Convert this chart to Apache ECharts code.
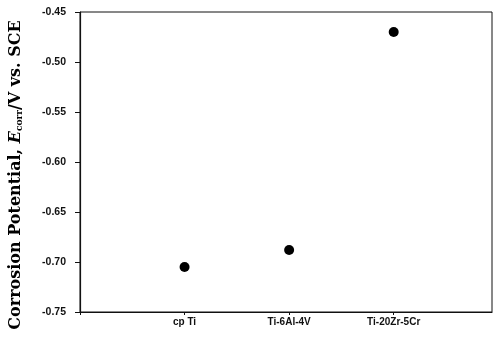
<!DOCTYPE html>
<html>
<head>
<meta charset="utf-8">
<script src="https://cdn.jsdelivr.net/npm/echarts@6/dist/echarts.min.js"></script>
<style>
  html, body { margin: 0; padding: 0; background: #fff; }
  #chart { width: 495px; height: 338px; }
</style>
</head>
<body>
<div id="chart"></div>
<script>
// alloys along the x axis, placed at positions 1, 2, 3
const alloys = ['cp Ti', 'Ti-6Al-4V', 'Ti-20Zr-5Cr']
// corrosion potential, V vs. SCE
const ecorr = [-0.705, -0.688, -0.470]
const yTicks = [-0.75, -0.70, -0.65, -0.60, -0.55, -0.50, -0.45]

const serif = 'DejaVu Serif, Liberation Serif, serif'

const chart = echarts.init(document.getElementById('chart'))

const option = {
  animation: false,
  grid: {
    left: 77,
    right: 3,
    top: 12,
    bottom: 26,
    show: true,
    borderColor: '#111',
    borderWidth: 1
  },
  xAxis: {
    type: 'value',
    min: 0,
    max: 3.94,
    interval: 1,
    splitLine: { show: false },
    axisLine: { lineStyle: { color: '#111', width: 1.2 } },
    axisTick: { length: 3, lineStyle: { color: '#111' } },
    axisLabel: {
      margin: 5,
      color: '#111',
      fontFamily: 'Liberation Sans, Arial',
      fontWeight: 'bold',
      fontSize: 10,
      showMaxLabel: false,
      formatter (v) {
        return alloys[Math.round(v) - 1] || ''
      }
    }
  },
  yAxis: {
    type: 'value',
    min: yTicks[0],
    max: yTicks[yTicks.length - 1],
    interval: 0.05,
    splitLine: { show: false },
    axisLine: { lineStyle: { color: '#111', width: 1.2 } },
    axisTick: { inside: false, length: 5, lineStyle: { color: '#111' } },
    axisLabel: {
      margin: 14,
      color: '#111',
      fontFamily: 'Liberation Sans, Arial',
      fontWeight: 'bold',
      fontSize: 10.5,
      formatter (v) {
        return v.toFixed(2)
      }
    },
    name: '{a|Corrosion Potential, }{i|E}{s|corr}{a|/V vs. SCE}',
    nameLocation: 'middle',
    nameGap: 56,
    nameRotate: 90,
    nameTextStyle: {
      padding: [0, 26, 0, 0],
      rich: {
        a: { fontFamily: serif, fontWeight: 'bold', fontSize: 16, color: '#000' },
        i: { fontFamily: serif, fontWeight: 'bold', fontStyle: 'italic', fontSize: 16, color: '#000' },
        s: { fontFamily: serif, fontWeight: 'bold', fontSize: 9, color: '#000', verticalAlign: 'bottom', padding: [7, 0, 0, 0] }
      }
    }
  },
  series: [
    {
      type: 'scatter',
      symbol: 'circle',
      symbolSize: 10,
      itemStyle: { color: '#000', opacity: 1 },
      data: ecorr.map((v, i) => [i + 1, v])
    }
  ]
}

chart.setOption(option)
</script>
</body>
</html>
